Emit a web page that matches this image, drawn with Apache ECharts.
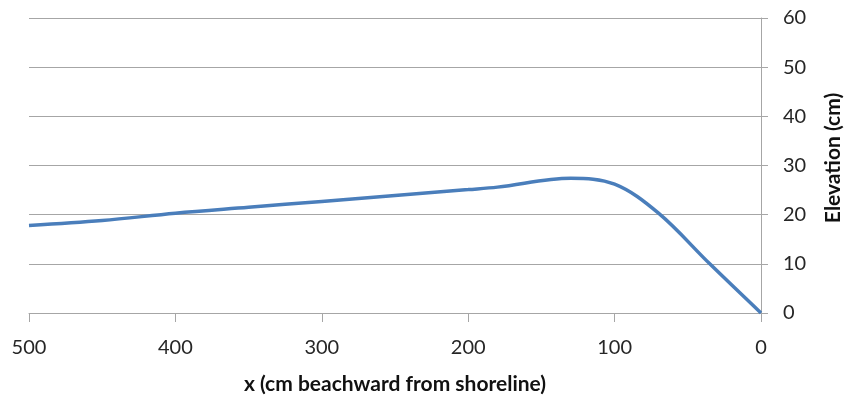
<!DOCTYPE html>
<html>
<head>
<meta charset="utf-8">
<script src="https://cdn.jsdelivr.net/npm/echarts@6/dist/echarts.min.js"></script>
<style>
  html, body { margin: 0; padding: 0; background: #fff; }
  #chart { width: 845px; height: 404px; }
</style>
</head>
<body>
<div id="chart"></div>
<script>
// Beach profile: distance beachward from the shoreline (cm) vs elevation (cm)
const distanceCm = [500, 450, 400, 350, 300, 250, 200, 180, 130, 100, 70, 35, 0];
const elevationCm = [17.8, 18.8, 20.3, 21.5, 22.7, 23.9, 25.1, 25.6, 27.4, 26.2, 20.3, 10.0, 0];
const xTicks = [0, 100, 200, 300, 400, 500];
const yTicks = [0, 10, 20, 30, 40, 50, 60];

const xTitle = 'x (cm beachward from shoreline)';
const yTitle = 'Elevation (cm)';

const font = 'Lato, Carlito, "Open Sans", sans-serif';
const gray = '#a6a6a6';

const chart = echarts.init(document.getElementById('chart'), null, { renderer: 'canvas' });

chart.setOption({
  animation: false,
  backgroundColor: '#ffffff',
  grid: { left: 29, right: 84, top: 18, bottom: 91, containLabel: false },
  xAxis: {
    type: 'value',
    inverse: true,
    min: xTicks[0],
    max: xTicks[xTicks.length - 1],
    interval: 100,
    axisLine: { show: true, lineStyle: { color: gray, width: 1 } },
    axisTick: { show: true, inside: false, length: 9, lineStyle: { color: gray } },
    splitLine: { show: false },
    axisLabel: { color: '#262626', fontFamily: font, fontSize: 20, margin: 25 }
  },
  yAxis: {
    type: 'value',
    position: 'right',
    min: yTicks[0],
    max: yTicks[yTicks.length - 1],
    interval: 10,
    axisLine: { show: true, lineStyle: { color: gray, width: 1 } },
    axisTick: { show: true, inside: false, length: 7, lineStyle: { color: gray } },
    splitLine: { show: true, lineStyle: { color: gray, width: 1 } },
    axisLabel: { color: '#262626', fontFamily: font, fontSize: 20, margin: 22 }
  },
  graphic: [
    {
      type: 'text',
      x: 395, y: 384,
      style: { text: xTitle, font: 'bold 21px ' + font, fill: '#111', align: 'center', verticalAlign: 'middle' },
      z: 10
    },
    {
      type: 'text',
      x: 833, y: 158,
      rotation: Math.PI / 2,
      style: { text: yTitle, font: 'bold 21px ' + font, fill: '#111', align: 'center', verticalAlign: 'middle' },
      z: 10
    }
  ],
  series: [{
    type: 'line',
    data: distanceCm.map((d, i) => [d, elevationCm[i]]),
    smooth: 0.35,
    showSymbol: false,
    symbol: 'none',
    lineStyle: { color: '#4a7ebb', width: 3.5 },
    clip: false
  }]
});
</script>
</body>
</html>
